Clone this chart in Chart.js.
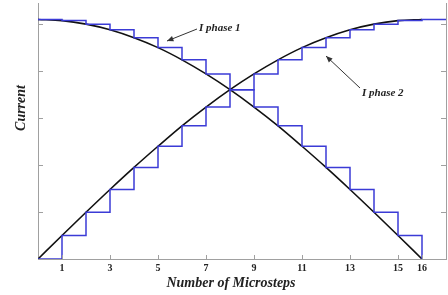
<!DOCTYPE html>
<html><head><meta charset="utf-8">
<script src="https://cdn.jsdelivr.net/npm/chart.js@4/dist/chart.umd.min.js"></script>
<style>html,body{margin:0;padding:0;background:#fff}#wrap{width:448px;height:295px}</style>
</head><body><div id="wrap"><canvas id="c" width="448" height="295"></canvas></div>
<script>
const steps = [0,1,2,3,4,5,6,7,8,9,10,11,12,13,14,15,16];
const phase1 = [1.02,1.015,1.000,0.976,0.942,0.900,0.848,0.788,0.721,0.647,0.567,0.480,0.390,0.296,0.199,0.100,0];
const phase2 = [0,0.100,0.199,0.296,0.390,0.480,0.567,0.647,0.721,0.788,0.848,0.900,0.942,0.976,1.000,1.015,1.02];
const phase2Tail = {x:17, y:1.02};
const xTickLabels = [1,3,5,7,9,11,13,15,16];
const yTickValues = [0.2,0.4,0.6,0.8,1.0];
const xTitle = 'Number of Microsteps';
const yTitle = 'Current';
const notes = [
  {text:'I phase 1', tx:199, ty:28, from:[197,29], to:[167,41]},
  {text:'I phase 2', tx:362, ty:93, from:[360,88], to:[326,56]}
];

const toXY = (arr) => arr.map((v,i)=>({x:steps[i], y:v}));
const BLUE = '#3b3bd6';
const AXIS = '#a0a0a0';

const deco = {
  id:'deco',
  afterDraw(chart){
    const ctx = chart.ctx, x = chart.scales.x, y = chart.scales.y, a = chart.chartArea;
    ctx.save();
    ctx.strokeStyle = AXIS; ctx.lineWidth = 1;
    // inward ticks
    yTickValues.forEach(v=>{
      const py = Math.round(y.getPixelForValue(v))+0.5;
      ctx.beginPath(); ctx.moveTo(a.left, py); ctx.lineTo(a.left+5, py); ctx.stroke();
      ctx.beginPath(); ctx.moveTo(a.right, py); ctx.lineTo(a.right-5, py); ctx.stroke();
    });
    xTickLabels.forEach(v=>{
      const px = Math.round(x.getPixelForValue(v))+0.5;
      ctx.beginPath(); ctx.moveTo(px, a.bottom); ctx.lineTo(px, a.bottom-4); ctx.stroke();
    });
    // titles
    ctx.fillStyle = '#222';
    ctx.font = 'bold italic 14px "Liberation Serif", "DejaVu Serif", serif';
    ctx.textAlign = 'center'; ctx.textBaseline = 'middle';
    ctx.fillText(xTitle, 231, 283);
    ctx.save(); ctx.translate(21, 108); ctx.rotate(-Math.PI/2);
    ctx.fillText(yTitle, 0, 0); ctx.restore();
    // annotations
    ctx.font = 'bold italic 11px "Liberation Serif", "DejaVu Serif", serif';
    ctx.textAlign = 'left';
    notes.forEach(n=>{
      ctx.fillStyle = '#222';
      ctx.fillText(n.text, n.tx, n.ty);
      ctx.strokeStyle = '#333'; ctx.lineWidth = 1;
      ctx.beginPath(); ctx.moveTo(n.from[0], n.from[1]); ctx.lineTo(n.to[0], n.to[1]); ctx.stroke();
      const ang = Math.atan2(n.to[1]-n.from[1], n.to[0]-n.from[0]);
      const L = 7, W = 0.4;
      ctx.fillStyle = '#333';
      ctx.beginPath();
      ctx.moveTo(n.to[0], n.to[1]);
      ctx.lineTo(n.to[0]-L*Math.cos(ang-W), n.to[1]-L*Math.sin(ang-W));
      ctx.lineTo(n.to[0]-L*Math.cos(ang+W), n.to[1]-L*Math.sin(ang+W));
      ctx.closePath(); ctx.fill();
    });
    ctx.restore();
  }
};

new Chart(document.getElementById('c'), {
  type:'line',
  data:{datasets:[
    {label:'I phase 1 steps', data:toXY(phase1), stepped:'before', borderColor:BLUE, borderWidth:1.5, pointRadius:0, fill:false},
    {label:'I phase 2 steps', data:toXY(phase2).concat([phase2Tail]), stepped:'before', borderColor:BLUE, borderWidth:1.5, pointRadius:0, fill:false},
    {label:'I phase 1', data:toXY(phase1), cubicInterpolationMode:'monotone', borderColor:'#111', borderWidth:1.6, pointRadius:0, fill:false},
    {label:'I phase 2', data:toXY(phase2), cubicInterpolationMode:'monotone', borderColor:'#111', borderWidth:1.6, pointRadius:0, fill:false}
  ]},
  options:{
    responsive:false, animation:false, events:[],
    layout:{padding:{top:3,left:0,right:0,bottom:0}},
    plugins:{legend:{display:false}, tooltip:{enabled:false}},
    scales:{
      x:{type:'linear', min:0, max:17,
        afterBuildTicks(s){ s.ticks = xTickLabels.map(v=>({value:v})); },
        afterFit(s){ s.height = 36; },
        grid:{drawOnChartArea:false, drawTicks:false},
        border:{display:true, color:AXIS, width:1},
        ticks:{padding:3, color:'#222', maxRotation:0, autoSkip:false,
          font:{family:'"Liberation Serif", serif', size:10, weight:'bold'},
          callback:(v)=>String(v)}
      },
      y:{type:'linear', min:0, max:1.09, position:'left',
        afterFit(s){ s.width = 38; },
        grid:{drawOnChartArea:false, drawTicks:false},
        border:{display:true, color:AXIS, width:1},
        ticks:{display:false}
      },
      y2:{type:'linear', min:0, max:1.09, position:'right',
        afterFit(s){ s.width = 2; },
        grid:{drawOnChartArea:false, drawTicks:false},
        border:{display:true, color:AXIS, width:1},
        ticks:{display:false}
      }
    }
  },
  plugins:[deco]
});
</script>
</body></html>
